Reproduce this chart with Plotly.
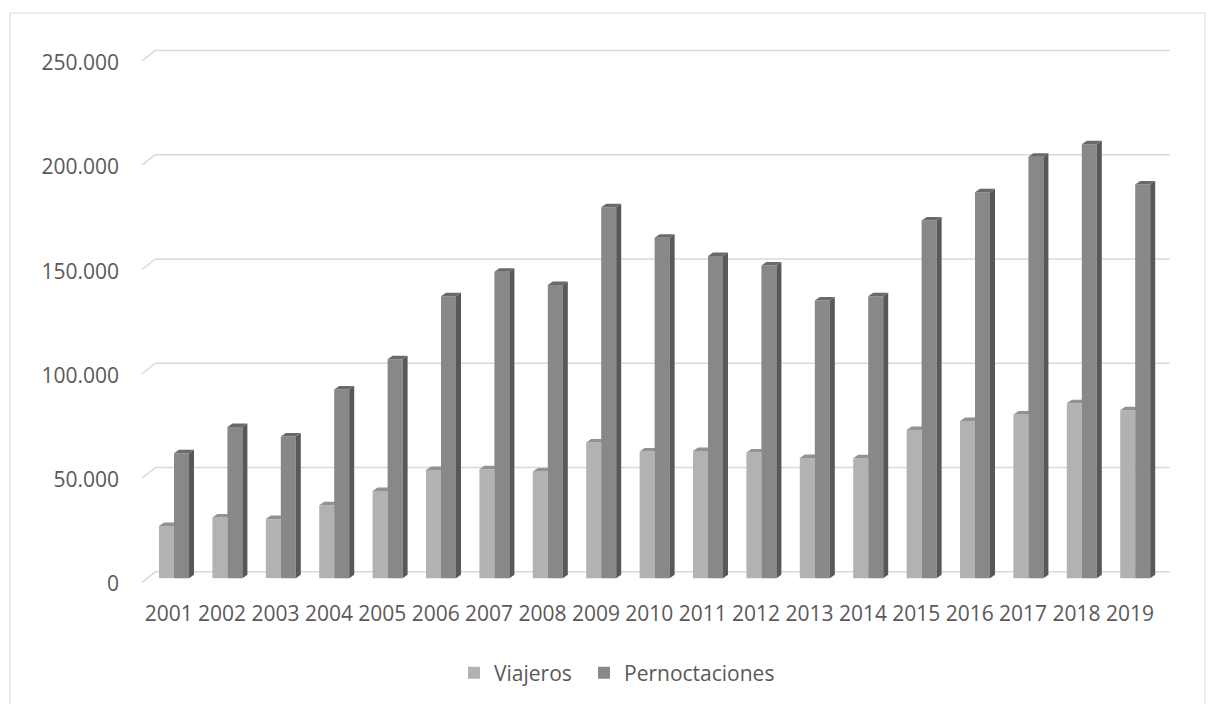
import plotly.graph_objects as go

# Datos anuales
years = [str(y) for y in range(2001, 2020)]
viajeros = [25000, 29100, 28300, 35000, 41800, 51900, 52200, 51100, 65000, 60700,
            61000, 60200, 57600, 57500, 71000, 75300, 78400, 83800, 80500]
pernoctaciones = [59900, 72500, 67900, 90500, 104900, 135200, 146900, 140500, 177800, 163200,
                  154400, 149900, 133100, 135200, 171500, 185000, 202000, 208000, 188700]
y_ticks = [0, 50000, 100000, 150000, 200000, 250000]

# Lienzo y área de trazado
W, H = 1215, 704
M_L, M_R, M_T, M_B = 140, 35, 40, 104
X_RANGE = [-0.5375, 18.938]
Y_RANGE = [-10000, 258000]
PLOT_W, PLOT_H = W - M_L - M_R, H - M_T - M_B
PX_X = PLOT_W / (X_RANGE[1] - X_RANGE[0])   # píxeles por categoría
PX_Y = PLOT_H / (Y_RANGE[1] - Y_RANGE[0])   # píxeles por unidad


def ux(px):
    return px / PX_X


def uy(px):
    return px / PX_Y


def paper_x(px):
    return (px - M_L) / PLOT_W


def paper_y(px):
    return (H - M_B - px) / PLOT_H


# Geometría pseudo-3D (en píxeles, convertida a unidades de datos)
BAR_W = ux(15)
SHIFT = ux(5.3)                      # plano frontal de las barras respecto al borde del suelo
DEPTH_X, DEPTH_Y = ux(5), uy(3.5)    # profundidad de cada barra
FLOOR_TO_WALL_X, FLOOR_TO_WALL_Y = ux(13.3), uy(10.5)
BAR_PLANE_DY = uy(4.2)               # altura del plano de barras sobre el borde del suelo

C_LIGHT, C_LIGHT_TOP = "#b2b2b2", "#929292"
C_DARK, C_DARK_SIDE, C_DARK_TOP = "#888888", "#585858", "#6a6a6a"
GRID = "#d9d9d9"
TEXT = "#595959"
FONT = "Open Sans"
FS = 21

xs = list(range(len(years)))


def faces(values, left_offset, side=True, top=True):
    """Polígonos de la cara lateral y superior de cada barra."""
    sx, sy, tx, ty = [], [], [], []
    for i, v in zip(xs, values):
        x0 = i + left_offset
        x1 = x0 + BAR_W
        if side:
            sx += [x1, x1 + DEPTH_X, x1 + DEPTH_X, x1, x1, None]
            sy += [0, DEPTH_Y, v + DEPTH_Y, v, 0, None]
        if top:
            tx += [x0, x0 + DEPTH_X, x1 + DEPTH_X, x1, x0, None]
            ty += [v, v + DEPTH_Y, v + DEPTH_Y, v, v, None]
    return sx, sy, tx, ty


def poly(x, y, color, z):
    return go.Scatter(x=x, y=y, mode="lines", fill="toself", fillcolor=color,
                      line=dict(width=0, color=color), hoverinfo="skip",
                      showlegend=False, zorder=z)


fig = go.Figure()

# Viajeros
fig.add_trace(go.Bar(x=xs, y=viajeros, name="Viajeros", width=BAR_W,
                     offset=SHIFT - BAR_W, marker=dict(color=C_LIGHT, line=dict(width=0)),
                     legend="legend", zorder=0))
_, _, ltx, lty = faces(viajeros, SHIFT - BAR_W, side=False)
fig.add_trace(poly(ltx, lty, C_LIGHT_TOP, 1))

# Pernoctaciones
fig.add_trace(go.Bar(x=xs, y=pernoctaciones, name="Pernoctaciones", width=BAR_W,
                     offset=SHIFT, marker=dict(color=C_DARK, line=dict(width=0)),
                     legend="legend2", zorder=2))
dsx, dsy, dtx, dty = faces(pernoctaciones, SHIFT)
fig.add_trace(poly(dsx, dsy, C_DARK_SIDE, 3))
fig.add_trace(poly(dtx, dty, C_DARK_TOP, 3))

# Líneas de cuadrícula sobre la pared del fondo, con su tramo diagonal en el suelo
floor_left = -0.5
wall_left = floor_left + FLOOR_TO_WALL_X
wall_right = len(years) - 0.5 + FLOOR_TO_WALL_X
wall_dy = FLOOR_TO_WALL_Y - BAR_PLANE_DY
shapes = []
for t in y_ticks:
    shapes.append(dict(type="line", xref="x", yref="y", layer="below",
                       x0=floor_left, y0=t - BAR_PLANE_DY, x1=wall_left, y1=t + wall_dy,
                       line=dict(color=GRID, width=1.5)))
    shapes.append(dict(type="line", xref="x", yref="y", layer="below",
                       x0=wall_left, y0=t + wall_dy, x1=wall_right, y1=t + wall_dy,
                       line=dict(color=GRID, width=1.5)))

# Marco exterior del gráfico
shapes.append(dict(type="rect", xref="paper", yref="paper", layer="below",
                   x0=paper_x(10), x1=paper_x(1205), y0=paper_y(730), y1=paper_y(13),
                   line=dict(color=GRID, width=1), fillcolor="rgba(0,0,0,0)"))

legend_style = dict(orientation="h", xanchor="left", yanchor="middle",
                    y=paper_y(673), font=dict(family=FONT, size=FS, color=TEXT),
                    bgcolor="rgba(0,0,0,0)")

fig.update_layout(
    width=W, height=H,
    margin=dict(l=M_L, r=M_R, t=M_T, b=M_B),
    paper_bgcolor="white", plot_bgcolor="white",
    barmode="overlay",
    separators=",.",
    font=dict(family=FONT, size=FS, color=TEXT),
    shapes=shapes,
    showlegend=True,
    legend=dict(x=paper_x(454), **legend_style),
    legend2=dict(x=paper_x(584), **legend_style),
    xaxis=dict(range=X_RANGE, tickmode="array", tickvals=xs, ticktext=years,
               showgrid=False, zeroline=False, showline=False, ticks="",
               tickfont=dict(family=FONT, size=FS, color=TEXT), fixedrange=True),
    yaxis=dict(range=Y_RANGE, tickmode="array", tickvals=y_ticks, tickformat=",d",
               showgrid=False, zeroline=False, showline=False, ticks="",
               ticklabelshift=6, ticklabelstandoff=20,
               tickfont=dict(family=FONT, size=FS, color=TEXT), fixedrange=True),
)

fig.write_html("out.html")
